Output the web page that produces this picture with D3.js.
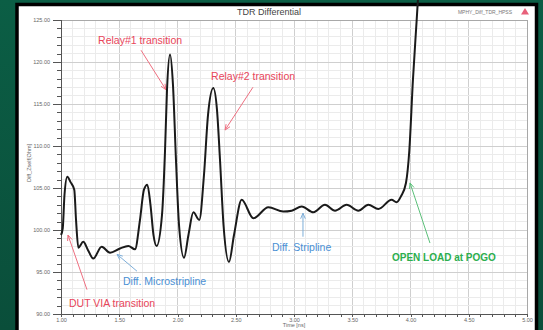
<!DOCTYPE html>
<html>
<head>
<meta charset="utf-8">
<script src="https://cdn.jsdelivr.net/npm/d3@7"></script>
<style>
  html, body { margin: 0; padding: 0; background: #0c5c44; }
  svg { display: block; }
  text { font-family: "Liberation Sans", Arial, sans-serif; }
</style>
</head>
<body>
<svg id="chart" width="543" height="330"></svg>
<script>
// TDR differential impedance trace (time in ns, impedance in ohm)
const timeNs = [
  1.000, 1.015, 1.030, 1.054, 1.082, 1.114, 1.129, 1.149, 1.191, 1.232,
  1.277, 1.349, 1.421, 1.506, 1.578, 1.635, 1.678, 1.712, 1.741, 1.768,
  1.794, 1.821, 1.867, 1.893, 1.910, 1.936, 1.961, 1.987, 2.013, 2.056,
  2.094, 2.136, 2.187, 2.227, 2.262, 2.307, 2.339, 2.365, 2.395, 2.442,
  2.485, 2.551, 2.651, 2.780, 2.908, 2.980, 3.066, 3.166, 3.266, 3.352,
  3.452, 3.552, 3.638, 3.724, 3.838, 3.880, 3.918, 3.961, 3.990, 4.021,
  4.053, 4.069
];
const impedance = [
  99.4, 100.2, 104.2, 106.35, 105.7, 104.8, 101.2, 97.9, 98.6, 97.6,
  96.6, 98.0, 97.3, 97.8, 98.1, 97.7, 101.2, 104.8, 105.4, 103.0,
  99.4, 98.1, 101.8, 109.5, 116.7, 120.9, 117.3, 108.3, 100.6, 96.7,
  99.4, 102.1, 101.2, 106.5, 113.7, 116.9, 114.3, 108.3, 100.6, 96.2,
  99.4, 103.6, 101.4, 102.7, 102.2, 102.3, 102.8, 102.1, 103.0, 102.3,
  103.0, 102.3, 103.0, 102.5, 103.6, 103.3, 104.0, 105.6, 109.5, 117.9,
  125.0, 128.6
];

// Axis tick values and labels
const xTickValues = [1.0, 1.5, 2.0, 2.5, 3.0, 3.5, 4.0, 4.5, 5.0];
const yTickValues = [90, 95, 100, 105, 110, 115, 120, 125];
const xMinorValues = d3.range(10, 51).map(d => d / 10);
const yMinorValues = d3.range(90, 126);

// Callout annotations: text, colour, label anchor, arrow from -> to (data units)
const noteText = ["Relay#1 transition", "Relay#2 transition", "DUT VIA transition",
                  "Diff. Microstripline", "Diff. Stripline", "OPEN LOAD at POGO"];
const noteColor = ["#e8455a", "#e8455a", "#e8455a", "#4a8fd4", "#4a8fd4", "#2cae4e"];
const noteArrowColor = ["#ee6f80", "#ee6f80", "#ee6f80", "#7eaed8", "#7eaed8", "#5cc07a"];
const noteLabelT = [1.318, 2.288, 1.069, 1.532, 2.811, 3.841];
const noteLabelZ = [122.1, 117.9, 90.8, 93.45, 97.5, 96.3];
const noteFromT = [1.687, 2.648, 1.223, 1.652, 3.077, 4.167];
const noteFromZ = [121.4, 117.0, 92.9, 95.1, 99.2, 98.45];
const noteToT = [1.901, 2.408, 1.060, 1.481, 3.077, 3.996];
const noteToZ = [116.7, 111.9, 99.4, 97.1, 102.0, 105.6];

const svg = d3.select("#chart");
const W = 543, H = 330;

// background
const defs = svg.append("defs");
const bg = defs.append("linearGradient").attr("id", "bg")
  .attr("x1", 0).attr("y1", 0).attr("x2", 0).attr("y2", 1);
bg.append("stop").attr("offset", 0).attr("stop-color", "#0b5e45");
bg.append("stop").attr("offset", 1).attr("stop-color", "#0a4e3a");
svg.append("rect").attr("width", W).attr("height", H).attr("fill", "url(#bg)");

// chart panel with black frame
svg.append("rect").attr("x", 17).attr("y", 4.5).attr("width", 519.5).attr("height", 330)
  .attr("fill", "#ffffff").attr("stroke", "#000").attr("stroke-width", 3.5);

const pLeft = 61, pRight = 527, pTop = 20, pBottom = 314;
const x = d3.scaleLinear().domain([1, 5]).range([pLeft, pRight]);
const y = d3.scaleLinear().domain([90, 125]).range([pBottom, pTop]);
const isHalf = d => Math.abs(d * 2 - Math.round(d * 2)) < 1e-6;

// grid
const grid = svg.append("g");
grid.selectAll("line.v").data(xMinorValues).join("line").attr("class", "v")
  .attr("x1", d => x(d)).attr("x2", d => x(d)).attr("y1", pTop).attr("y2", pBottom)
  .attr("stroke", d => isHalf(d) ? "#cfcfcf" : "#ebebeb")
  .attr("stroke-width", 1).attr("shape-rendering", "crispEdges");
grid.selectAll("line.h").data(yMinorValues).join("line").attr("class", "h")
  .attr("y1", d => y(d)).attr("y2", d => y(d)).attr("x1", pLeft).attr("x2", pRight)
  .attr("stroke", d => d % 5 === 0 ? "#cfcfcf" : "#ebebeb")
  .attr("stroke-width", 1).attr("shape-rendering", "crispEdges");

// plot frame
svg.append("rect").attr("x", pLeft).attr("y", pTop).attr("width", pRight - pLeft).attr("height", pBottom - pTop)
  .attr("fill", "none").attr("stroke", "#a8a8a8").attr("stroke-width", 1).attr("shape-rendering", "crispEdges");

// axes
const fmt = d3.format(".2f");
const yAxis = svg.append("g").attr("transform", `translate(${pLeft},0)`)
  .call(d3.axisLeft(y).tickValues(yTickValues).tickFormat(fmt).tickSize(8).tickPadding(3));
const yMinor = svg.append("g").attr("transform", `translate(${pLeft},0)`)
  .call(d3.axisLeft(y).tickValues(yMinorValues.filter(d => d % 5 !== 0)).tickFormat("").tickSize(4));
const xAxis = svg.append("g").attr("transform", `translate(0,${pBottom})`)
  .call(d3.axisBottom(x).tickValues(xTickValues).tickFormat(fmt).tickSize(3).tickPadding(1));
const xMinor = svg.append("g").attr("transform", `translate(0,${pBottom})`)
  .call(d3.axisBottom(x).tickValues(xMinorValues.filter(d => !isHalf(d))).tickFormat("").tickSize(3));
[yAxis, yMinor, xAxis, xMinor].forEach(g => {
  g.select(".domain").attr("stroke", "#555").attr("shape-rendering", "crispEdges");
  g.selectAll(".tick line").attr("stroke", "#555").attr("shape-rendering", "crispEdges");
  g.selectAll(".tick text").attr("fill", "#666").style("font-size", "5.5px");
});

// axis titles and header
svg.append("text").attr("x", 294).attr("y", 327).attr("text-anchor", "middle")
  .attr("fill", "#666").style("font-size", "5.5px").text("Time [ns]");
svg.append("text").attr("transform", "translate(31,163) rotate(-90)").attr("text-anchor", "middle")
  .attr("fill", "#666").style("font-size", "5.5px").text("Diff_Zself[Ohm]");
svg.append("text").attr("x", 269).attr("y", 15).attr("text-anchor", "middle")
  .attr("fill", "#444").style("font-size", "9px").text("TDR Differential");
svg.append("text").attr("x", 512).attr("y", 14).attr("text-anchor", "end")
  .attr("fill", "#777").style("font-size", "5px").text("MPHY_Diff_TDR_HPSS");
svg.append("path").attr("d", "M521,14.5 L525,8 L529,14.5 Z").attr("fill", "#e8607a");

// callouts
const notes = svg.append("g");
noteText.forEach((t, i) => {
  const x1 = x(noteFromT[i]), y1 = y(noteFromZ[i]);
  const x2 = x(noteToT[i]), y2 = y(noteToZ[i]);
  const ang = Math.atan2(y2 - y1, x2 - x1);
  const L = 6, A = 0.4;
  notes.append("line").attr("x1", x1).attr("y1", y1).attr("x2", x2).attr("y2", y2)
    .attr("stroke", noteArrowColor[i]).attr("stroke-width", 1);
  notes.append("path")
    .attr("d", `M${x2 - L * Math.cos(ang - A)},${y2 - L * Math.sin(ang - A)} L${x2},${y2} L${x2 - L * Math.cos(ang + A)},${y2 - L * Math.sin(ang + A)}`)
    .attr("fill", "none").attr("stroke", noteArrowColor[i]).attr("stroke-width", 1);
  notes.append("text").attr("x", x(noteLabelT[i])).attr("y", y(noteLabelZ[i]))
    .attr("fill", noteColor[i]).style("font-size", i === 5 ? "10px" : "10.5px")
    .style("font-weight", i === 5 ? "bold" : "normal")
    .text(t);
});

// trace
const line = d3.line().x((d, i) => x(timeNs[i])).y(d => y(d)).curve(d3.curveMonotoneX);
svg.append("path").datum(impedance).attr("d", line)
  .attr("fill", "none").attr("stroke", "#1a1a1a").attr("stroke-width", 2).attr("stroke-linejoin", "round");
</script>
</body>
</html>
